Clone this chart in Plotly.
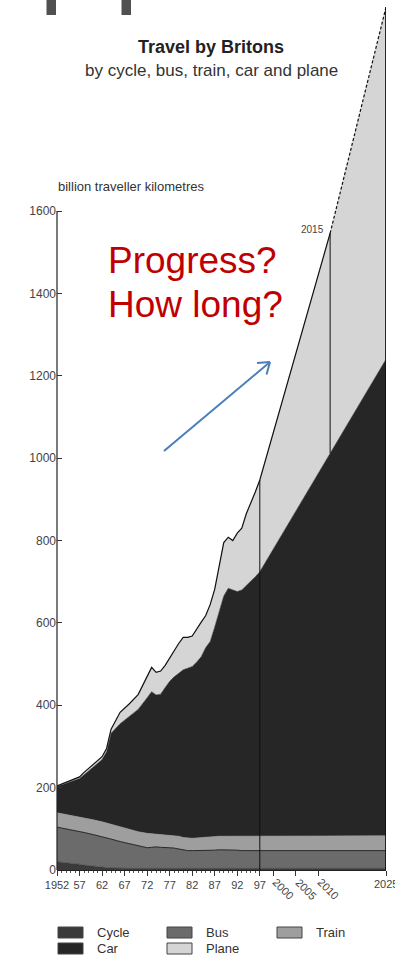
import plotly.graph_objects as go
import numpy as np

# ---------------- data (billion traveller km) ----------------
years = [1952, 1954, 1956, 1957, 1958, 1960, 1962, 1963, 1964, 1966, 1968, 1970,
         1972, 1973, 1974, 1975, 1976, 1977, 1978, 1979, 1980, 1981, 1982, 1983,
         1984, 1985, 1986, 1987, 1988, 1989, 1990, 1991, 1992, 1993, 1994, 1995,
         1996, 1997, 2012.6, 2025]
cycle = [20, 18, 15, 14, 12, 9, 7, 6, 5] + [4] * 31
bus = [84, 82, 81, 79, 79, 77, 74, 72, 70, 65, 60, 55, 50, 51, 52, 51, 51, 50, 49, 47,
       44, 43, 43, 43, 44, 44, 44, 44, 45, 45, 45, 44, 44, 43, 43, 43, 43, 43, 43, 43]
train = [35, 35, 35, 36, 36, 36, 36, 36, 36, 35, 34, 34, 35, 33, 32, 32, 31, 31, 31, 31,
         31, 31, 30, 31, 31, 32, 32, 33, 33, 33, 33, 34, 34, 35, 35, 36, 36, 36, 36, 36]
car = [64, 75, 87, 93, 104, 128, 151, 173, 221, 251, 274, 297, 329, 345, 337, 340, 357,
       373, 385, 396, 407, 412, 417, 427, 439, 460, 475, 509, 548, 583, 602, 598, 594,
       598, 608, 617, 629, 641, 929, 1157]
plane = [1, 3, 3, 4, 6, 5, 7, 8, 10, 28, 31, 36, 52, 59, 55, 56, 54, 57, 64, 72, 79, 75,
         74, 81, 84, 78, 90, 92, 112, 130, 124, 120, 142, 150, 175, 190, 206, 223, 534, 855]

marker_year = 1997          # end of the original series
projection_year = 2012.6    # position of the "2015" marker line
end_year = 2025
projection_label = "2015"

major_ticks = [1952, 1957, 1962, 1967, 1972, 1977, 1982, 1987, 1992, 1997, 2000, 2005, 2010, 2025]
major_labels = ["1952", "57", "62", "67", "72", "77", "82", "87", "92", "97", "", "", "", ""]
rotated_ticks = [2000, 2005, 2010]
edge_tick = 2025
y_ticks = [0, 200, 400, 600, 800, 1000, 1200, 1400, 1600]

legend_names = ["Cycle", "Bus", "Train", "Car", "Plane"]
colors = {"Cycle": "#3a3a3a", "Bus": "#6b6b6b", "Train": "#9e9e9e",
          "Car": "#262626", "Plane": "#d5d5d5"}

# ---------------- derived ----------------
yrs = np.array(years, dtype=float)
series = {"Cycle": cycle, "Bus": bus, "Train": train, "Car": car, "Plane": plane}
stack = np.cumsum(np.array([cycle, bus, train, car, plane], dtype=float), axis=0)
total = stack[-1]
car_top = stack[3]

FONT = "Liberation Sans, Arial, sans-serif"
W, H = 395, 955
L, R, T, B = 57, 9, 1, 85
PW, PH = W - L - R, H - T - B


def px(x):
    return (x - L) / PW


def py(y):
    return (H - B - y) / PH


fig = go.Figure()

for name in legend_names:
    fig.add_trace(go.Scatter(
        x=years, y=series[name], stackgroup="one", mode="lines",
        line=dict(width=0.6, color=colors[name]), fillcolor=colors[name],
        name=name, showlegend=False, hoverinfo="skip"))

# outline between bus and train
bus_top = stack[1]
fig.add_trace(go.Scatter(x=years, y=bus_top, mode="lines", line=dict(color="#2a2a2a", width=1),
                         showlegend=False, hoverinfo="skip"))

# solid top outline up to projection marker, dashed afterwards
solid = yrs <= projection_year
dashed = yrs >= projection_year
fig.add_trace(go.Scatter(x=yrs[solid], y=total[solid], mode="lines",
                         line=dict(color="#111111", width=1.2), showlegend=False, hoverinfo="skip"))
fig.add_trace(go.Scatter(x=yrs[dashed], y=total[dashed], mode="lines",
                         line=dict(color="#111111", width=1.2, dash="3px,2px"),
                         showlegend=False, hoverinfo="skip"))

# vertical marker lines
i97 = years.index(marker_year)
ip = years.index(projection_year)
ie = years.index(end_year)
fig.add_trace(go.Scatter(x=[marker_year, marker_year], y=[0, total[i97]], mode="lines",
                         line=dict(color="#111111", width=1), showlegend=False, hoverinfo="skip"))
fig.add_trace(go.Scatter(x=[projection_year, projection_year], y=[car_top[ip], total[ip]], mode="lines",
                         line=dict(color="#111111", width=1), showlegend=False, hoverinfo="skip"))
fig.add_trace(go.Scatter(x=[end_year - 0.08, end_year - 0.08], y=[0, total[ie]], mode="lines",
                         line=dict(color="#111111", width=1), showlegend=False, hoverinfo="skip"))

annotations = []
shapes = []

# y axis line only up to 1600
shapes.append(dict(type="line", xref="paper", yref="y", x0=0, x1=0, y0=0, y1=y_ticks[-1],
                   line=dict(color="#222222", width=1.2)))

# rotated x tick labels
for t in rotated_ticks:
    annotations.append(dict(x=t, y=0, xref="x", yref="y", text=str(t), showarrow=False,
                            textangle=45, xshift=10, yshift=-19,
                            font=dict(family=FONT, size=11, color="#444444")))
# edge tick label (cut by the page edge as in the original)
annotations.append(dict(x=edge_tick, y=0, xref="x", yref="y", text=str(edge_tick), showarrow=False,
                        xanchor="center", yanchor="top", yshift=-6,
                        font=dict(family=FONT, size=11, color="#444444")))

# projection label
annotations.append(dict(x=projection_year, y=total[ip], xref="x", yref="y", text=projection_label,
                        showarrow=False, xanchor="right", yanchor="middle", xshift=-4, yshift=4,
                        font=dict(family=FONT, size=10, color="#444444")))

# titles
annotations.append(dict(x=px(211), y=py(47), xref="paper", yref="paper", text="<b>Travel by Britons</b>",
                        showarrow=False, xanchor="center", yanchor="middle",
                        font=dict(family=FONT, size=18, color="#222222")))
annotations.append(dict(x=px(211), y=py(70), xref="paper", yref="paper",
                        text="by cycle, bus, train, car and plane", showarrow=False,
                        xanchor="center", yanchor="middle",
                        font=dict(family=FONT, size=17, color="#333333")))
annotations.append(dict(x=px(56), y=py(187), xref="paper", yref="paper",
                        text="billion traveller kilometres", showarrow=False,
                        xanchor="left", yanchor="middle",
                        font=dict(family=FONT, size=13, color="#333333")))

# red question text
annotations.append(dict(x=px(106), y=py(260), xref="paper", yref="paper", text="Progress?",
                        showarrow=False, xanchor="left", yanchor="middle",
                        font=dict(family=FONT, size=37, color="#c00000")))
annotations.append(dict(x=px(106), y=py(304), xref="paper", yref="paper", text="How long?",
                        showarrow=False, xanchor="left", yanchor="middle",
                        font=dict(family=FONT, size=37, color="#c00000")))

# blue open arrow
ax0, ay0, ax1, ay1 = 164, 451, 270, 362
arrow_col = "#4a7ebb"
shapes.append(dict(type="line", xref="paper", yref="paper", x0=px(ax0), y0=py(ay0), x1=px(ax1), y1=py(ay1),
                   line=dict(color=arrow_col, width=2)))
for hx, hy in [(257, 363), (266.5, 374.5)]:
    shapes.append(dict(type="line", xref="paper", yref="paper", x0=px(ax1), y0=py(ay1), x1=px(hx), y1=py(hy),
                       line=dict(color=arrow_col, width=2)))

# cut-off glyph fragments at the very top
for x0, x1 in [(46.5, 56), (121.5, 131)]:
    shapes.append(dict(type="rect", xref="paper", yref="paper", x0=px(x0), x1=px(x1), y0=py(15), y1=py(-2),
                       fillcolor="#505050", line=dict(width=0)))

# manual legend
legend_pos = {"Cycle": (58, 927), "Bus": (167, 927), "Train": (277, 927),
              "Car": (58, 943), "Plane": (167, 943)}
for name in legend_names:
    lx, ly = legend_pos[name]
    shapes.append(dict(type="rect", xref="paper", yref="paper", x0=px(lx), x1=px(lx + 25),
                       y0=py(ly + 11), y1=py(ly), fillcolor=colors[name],
                       line=dict(color="#444444", width=1)))
    annotations.append(dict(x=px(lx + 37), y=py(ly + 5.5), xref="paper", yref="paper", text=name,
                            showarrow=False, xanchor="left", yanchor="middle",
                            font=dict(family=FONT, size=13, color="#333333")))

fig.update_layout(
    width=W, height=H, margin=dict(l=L, r=R, t=T, b=B),
    paper_bgcolor="white", plot_bgcolor="white",
    showlegend=False, shapes=shapes, annotations=annotations,
    xaxis=dict(range=[1952, 2025], tickmode="array", tickvals=major_ticks, ticktext=major_labels,
               ticks="outside", ticklen=5, tickcolor="#333333", tickwidth=1,
               showline=True, linecolor="#222222", linewidth=1, showgrid=False, zeroline=False,
               tickangle=0, tickfont=dict(family=FONT, size=11, color="#444444"),
               minor=dict(tickvals=list(range(1952, 1998)), ticks="outside", ticklen=2,
                          tickcolor="#555555", showgrid=False)),
    yaxis=dict(range=[0, 2110], tickmode="array", tickvals=y_ticks,
               ticks="inside", ticklen=5, tickcolor="#333333", showline=False, showgrid=False,
               zeroline=False, tickfont=dict(family=FONT, size=12, color="#444444")),
)

fig.write_html("out.html", config={"displayModeBar": False},
               post_script="document.body.style.margin='0';document.body.style.overflow='hidden';")
